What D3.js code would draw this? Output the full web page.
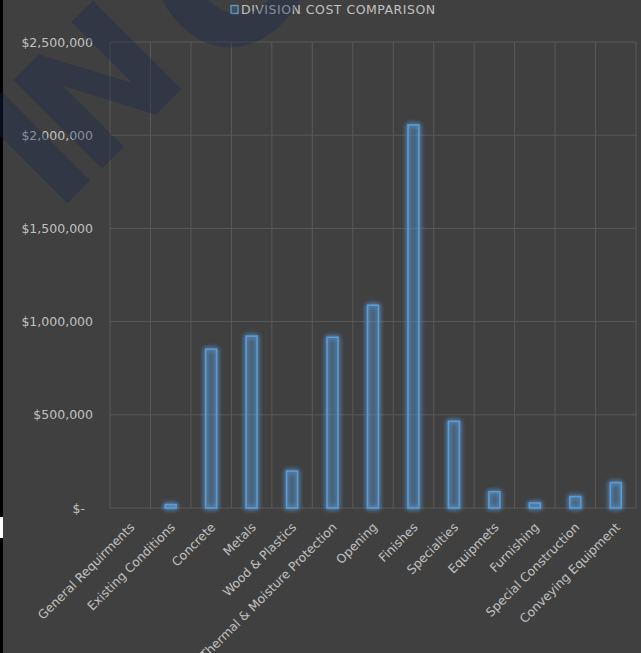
<!DOCTYPE html>
<html>
<head>
<meta charset="utf-8">
<script src="https://cdn.jsdelivr.net/npm/d3@7/dist/d3.min.js"></script>
<style>
html,body{margin:0;padding:0;background:#404040;}
svg{display:block;}
text{font-family:"DejaVu Sans","Noto Sans",sans-serif;}
</style>
</head>
<body>
<script>
const categories = ["General Requirments","Existing Conditions","Concrete","Metals","Wood & Plastics","Thermal & Moisture Protection","Opening","Finishes","Specialties","Equipmets","Furnishing","Special Construction","Conveying Equipment"];
const costs = [0, 18000, 852000, 922000, 198000, 916000, 1088000, 2055000, 465000, 87000, 27000, 61000, 136000];
const yTicks = [0, 500000, 1000000, 1500000, 2000000, 2500000];
const seriesName = "DIVISION COST COMPARISON";
const watermarkText = "INC";

const W = 641, H = 653;
const pLeft = 110, pRight = 636, pTop = 42, pBottom = 508;
const svg = d3.select("body").append("svg").attr("width", W).attr("height", H);

const defs = svg.append("defs");
const f = defs.append("filter").attr("id","glow").attr("x","-80%").attr("y","-20%").attr("width","260%").attr("height","140%");
f.append("feGaussianBlur").attr("in","SourceGraphic").attr("stdDeviation",2.8).attr("result","b");
const m = f.append("feMerge");
m.append("feMergeNode").attr("in","b");
m.append("feMergeNode").attr("in","b");
m.append("feMergeNode").attr("in","SourceGraphic");

svg.append("rect").attr("width",W).attr("height",H).attr("fill","#404040");

// left strip
svg.append("rect").attr("x",0).attr("y",0).attr("width",3).attr("height",H).attr("fill","#000");
svg.append("rect").attr("x",0).attr("y",517).attr("width",3).attr("height",21).attr("fill","#fff");

const x = d3.scaleBand().domain(categories).range([pLeft, pRight]).padding(0);
const y = d3.scaleLinear().domain([0, 2500000]).range([pBottom, pTop]);

// gridlines
const g = svg.append("g");
g.selectAll("line.h").data(yTicks).join("line")
  .attr("x1", pLeft).attr("x2", pRight)
  .attr("y1", d=>y(d)).attr("y2", d=>y(d))
  .attr("stroke","#595959").attr("stroke-width",1);
const bounds = categories.map(c=>x(c)).concat([x(categories[categories.length-1]) + x.bandwidth()]);
g.selectAll("line.v").data(bounds).join("line")
  .attr("x1", d=>d).attr("x2", d=>d)
  .attr("y1", pTop).attr("y2", pBottom)
  .attr("stroke","#595959").attr("stroke-width",1);

// y axis
const yAxis = d3.axisLeft(y).tickValues(yTicks).tickSize(0).tickPadding(0)
  .tickFormat(d => d === 0 ? "$-" : "$" + d3.format(",")(d));
const ya = svg.append("g").attr("transform", `translate(${pLeft-17},0)`).call(yAxis);
ya.select(".domain").remove();
ya.selectAll("text").attr("fill","#c0c0c0").attr("font-size",12.5)
  .attr("dx", d => d === 0 ? -8 : 0);

// bars
const bw = x.bandwidth()*0.27;
svg.append("g").attr("filter","url(#glow)").selectAll("rect").data(categories.map((c,i)=>({c, v:costs[i]})).filter(d=>d.v>0)).join("rect")
  .attr("x", d => x(d.c) + x.bandwidth()/2 - bw/2)
  .attr("y", d => y(d.v))
  .attr("width", bw)
  .attr("height", d => y(0) - y(d.v))
  .attr("fill","rgba(91,155,213,0.12)")
  .attr("stroke","#5b9bd5").attr("stroke-width",1.6);

// x axis labels
const xAxis = d3.axisBottom(x).tickSize(0).tickPadding(0);
const xa = svg.append("g").attr("transform", `translate(0,${pBottom})`).call(xAxis);
xa.select(".domain").remove();
xa.selectAll("text")
  .attr("fill","#c0c0c0").attr("font-size",12.3)
  .attr("text-anchor","end")
  .attr("transform","translate(2,17) rotate(-45)")
  .attr("dy","0.35em").attr("y",0).attr("x",0);

// title / legend
const tg = svg.append("g");
tg.append("rect").attr("x",231).attr("y",5.5).attr("width",7).attr("height",8)
  .attr("fill","rgba(91,155,213,0.15)").attr("stroke","#5b9bd5").attr("stroke-width",1.3);
tg.append("text").text(seriesName).attr("x",241).attr("y",10).attr("dy","0.35em")
  .attr("fill","#c0c0c0").attr("font-size",12.5).attr("letter-spacing",0.5);

// watermark (drawn on top, semi-transparent), letters along a -45deg line
const wmOrigin = [35, 148], wmSteps = [0, 89, 250], wmDrop = [0, 0, 22];
const wm = svg.append("g").attr("fill","rgb(20,38,80)").attr("fill-opacity",0.34);
watermarkText.split("").forEach((ch, i) => {
  const s = wmSteps[i], d = wmDrop[i];
  const px = wmOrigin[0] + s*Math.SQRT1_2 + d*Math.SQRT1_2, py = wmOrigin[1] - s*Math.SQRT1_2 + d*Math.SQRT1_2;
  wm.append("text").text(ch)
    .attr("transform", `translate(${px},${py}) rotate(-45)`)
    .attr("text-anchor","middle").attr("y",62)
    .attr("font-size", i === 2 ? 190 : 172).attr("font-weight","bold");
});
</script>
</body>
</html>
